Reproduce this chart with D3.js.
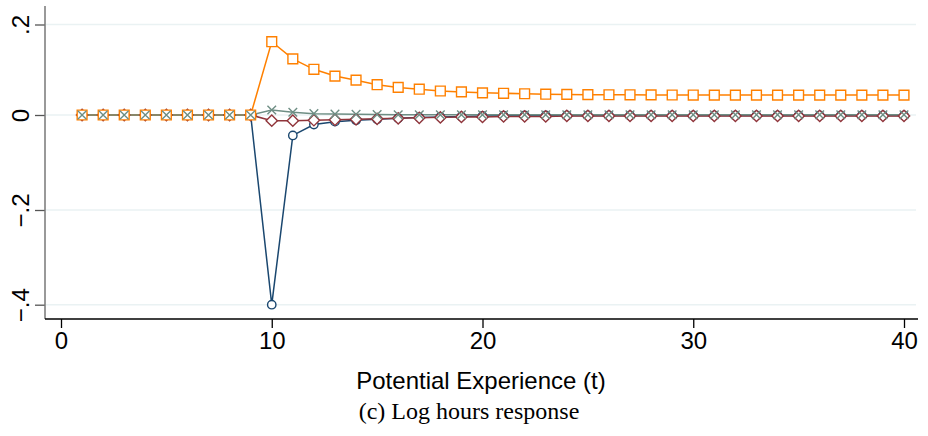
<!DOCTYPE html>
<meta charset="utf-8">
<style>
body { margin: 0; background: #fff; }
.tick text { font: 24px "Liberation Sans", Arial, sans-serif; fill: #000; }
</style>
<body>
<script src="https://cdn.jsdelivr.net/npm/d3@7"></script>
<script>
// potential experience, years 1..40
var experience = [1, 2, 3, 4, 5, 6, 7, 8, 9, 10, 11, 12, 13, 14, 15, 16, 17, 18, 19, 20,
                  21, 22, 23, 24, 25, 26, 27, 28, 29, 30, 31, 32, 33, 34, 35, 36, 37, 38, 39, 40];

var circleSeries = [0, 0, 0, 0, 0, 0, 0, 0, 0, -0.400, -0.043, -0.020, -0.014, -0.011, -0.009, -0.007,
                    -0.005, -0.004, -0.003, -0.002, -0.0015, -0.001, -0.001, -0.001, -0.001, -0.001,
                    -0.001, -0.001, -0.001, -0.001, -0.001, -0.001, -0.001, -0.001, -0.001, -0.001,
                    -0.001, -0.001, -0.001, -0.001];
var diamondSeries = [0, 0, 0, 0, 0, 0, 0, 0, 0, -0.012, -0.012, -0.011, -0.010, -0.009, -0.008, -0.007,
                     -0.006, -0.005, -0.004, -0.004, -0.003, -0.003, -0.003, -0.002, -0.002, -0.002,
                     -0.002, -0.002, -0.002, -0.002, -0.002, -0.002, -0.002, -0.002, -0.002, -0.002,
                     -0.002, -0.002, -0.002, -0.002];
var squareSeries = [0, 0, 0, 0, 0, 0, 0, 0, 0, 0.162, 0.124, 0.101, 0.086, 0.077, 0.067, 0.061,
                    0.057, 0.053, 0.051, 0.049, 0.048, 0.047, 0.046, 0.0455, 0.045, 0.0448,
                    0.0446, 0.0444, 0.0442, 0.0441, 0.044, 0.044, 0.044, 0.044, 0.044, 0.044,
                    0.044, 0.044, 0.044, 0.044];
var crossSeries = [0, 0, 0, 0, 0, 0, 0, 0, 0, 0.011, 0.006, 0.003, 0.002, 0.0015, 0.001, 0.0005,
                   0.0005, 0.0005, 0.0005, 0.0005, 0.0005, 0.0005, 0.0005, 0.0005, 0.0005, 0.0005,
                   0.0005, 0.0005, 0.0005, 0.0005, 0.0005, 0.0005, 0.0005, 0.0005, 0.0005, 0.0005,
                   0.0005, 0.0005, 0.0005, 0.0005];

var xTicks = [0, 10, 20, 30, 40];
var yTicks = [0.2, 0, -0.2, -0.4];
var yTickLabels = [".2", "0", "\u2212.2", "\u2212.4"];

var xTitle = "Potential Experience (t)";
var caption = "(c) Log hours response";

var width = 928, height = 436;

var svg = d3.select("body").append("svg")
    .attr("width", width)
    .attr("height", height);

// x: 0..40 -> pixels
var x = d3.scaleLinear()
    .domain([0, 40])
    .range([61, 904]);

// y tick spacing in the picture is not quite even, so piecewise
var y = d3.scaleLinear()
    .domain(yTicks)
    .range([24.5, 115, 210, 304.7]);

var plotLeft = 45, plotRight = 918, plotTop = 6, plotBottom = 319;

// gridlines
svg.append("g")
  .selectAll("line")
    .data(yTicks)
  .enter().append("line")
    .attr("x1", plotLeft + 1)
    .attr("x2", 916)
    .attr("y1", function(d) { return y(d); })
    .attr("y2", function(d) { return y(d); })
    .attr("stroke", "#eaf2f3")
    .attr("stroke-width", 1.5);

// y axis
var yAxis = svg.append("g")
    .attr("transform", "translate(" + plotLeft + ",0)")
    .call(d3.axisLeft(y)
      .tickValues(yTicks)
      .tickSize(10)
      .tickFormat(function(d, i) { return yTickLabels[i]; }));
yAxis.select(".domain").remove();
yAxis.selectAll(".tick line").attr("stroke", "#555").attr("stroke-width", 1.3);
yAxis.selectAll(".tick text")
    .attr("x", null).attr("dy", null)
    .attr("text-anchor", "middle")
    .attr("transform", "translate(-16,0) rotate(-90)");

svg.append("line")
    .attr("x1", plotLeft).attr("x2", plotLeft)
    .attr("y1", plotTop).attr("y2", plotBottom)
    .attr("stroke", "#777")
    .attr("stroke-width", 1.5);

// x axis
var xAxis = svg.append("g")
    .attr("transform", "translate(0," + plotBottom + ")")
    .call(d3.axisBottom(x)
      .tickValues(xTicks)
      .tickSize(9)
      .tickFormat(d3.format("d")));
xAxis.select(".domain").remove();
xAxis.selectAll(".tick line").attr("stroke", "#000").attr("stroke-width", 1.3);
xAxis.selectAll(".tick text").attr("y", 13).attr("dy", "0.71em");

svg.append("line")
    .attr("x1", plotLeft).attr("x2", plotRight)
    .attr("y1", plotBottom).attr("y2", plotBottom)
    .attr("stroke", "#000")
    .attr("stroke-width", 1.5);

// series: draw order matters for overlaps at 0
var series = [
  {values: circleSeries,  color: "#1a476f", symbol: d3.symbolCircle, size: 55, rotate: 0},
  {values: diamondSeries, color: "#90353b", symbol: d3.symbolSquare, size: 64, rotate: 45},
  {values: squareSeries,  color: "#ff8000", symbol: d3.symbolSquare, size: 96, rotate: 0},
  {values: crossSeries,   color: "#6e8e84", symbol: d3.symbolTimes,  size: 50, rotate: 0}
];

var line = d3.line()
    .x(function(d, i) { return x(experience[i]); })
    .y(function(d) { return y(d); });

svg.append("g")
  .selectAll("path")
    .data(series)
  .enter().append("path")
    .attr("d", function(s) { return line(s.values); })
    .attr("fill", "none")
    .attr("stroke", function(s) { return s.color; })
    .attr("stroke-width", 1.5);

series.forEach(function(s) {
  var sym = d3.symbol().type(s.symbol).size(s.size);
  svg.append("g")
    .selectAll("path")
      .data(s.values)
    .enter().append("path")
      .attr("d", sym)
      .attr("transform", function(d, i) {
        return "translate(" + x(experience[i]) + "," + y(d) + ") rotate(" + s.rotate + ")";
      })
      .attr("fill", s.symbol === d3.symbolTimes ? "none" : "#fff")
      .attr("stroke", s.color)
      .attr("stroke-width", 1.4);
});

// titles
svg.append("text")
    .attr("x", 481)
    .attr("y", 389)
    .attr("text-anchor", "middle")
    .style("font", "24px 'Liberation Sans', Arial, sans-serif")
    .text(xTitle);

svg.append("text")
    .attr("x", 469)
    .attr("y", 419)
    .attr("text-anchor", "middle")
    .style("font", "24px 'Liberation Serif', 'Times New Roman', serif")
    .text(caption);
</script>
